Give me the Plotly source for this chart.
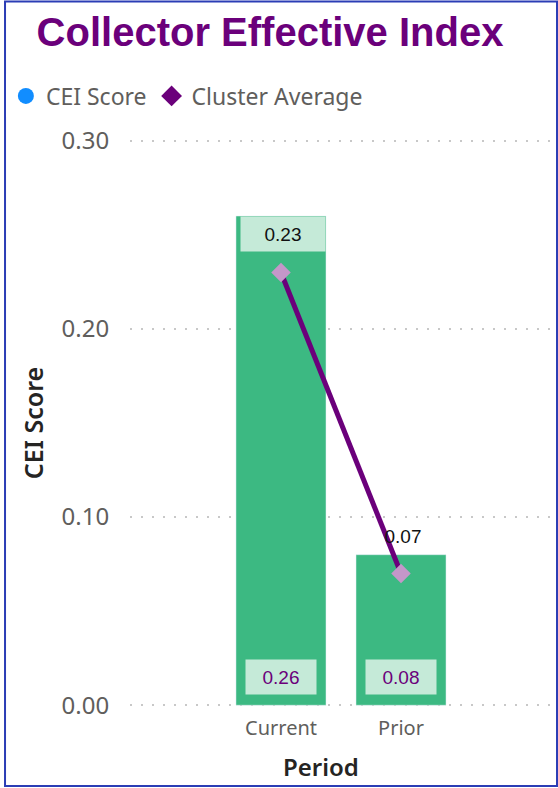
import plotly.graph_objects as go

periods = ["Current", "Prior"]
cei_score = [0.26, 0.08]
cluster_avg = [0.23, 0.07]
y_ticks = [0.0, 0.1, 0.2, 0.3]
y_tick_labels = ["0.00", "0.10", "0.20", "0.30"]

fig = go.Figure()

fig.add_trace(go.Bar(x=periods, y=cei_score, name="CEI Score", width=0.75,
                     marker_color="#3CB982", showlegend=False, hoverinfo="x+y"))
fig.add_trace(go.Scatter(x=periods, y=cluster_avg, name="Cluster Average", mode="lines+markers",
                         line=dict(color="#6B007B", width=5),
                         marker=dict(symbol="diamond", size=15, color="#C497C9"),
                         showlegend=False))

# legend-only entries (legend colours differ from the marks)
fig.add_trace(go.Scatter(x=[None], y=[None], mode="markers", name="CEI Score",
                         marker=dict(symbol="circle", size=19, color="#118DFF")))
fig.add_trace(go.Scatter(x=[None], y=[None], mode="markers", name="Cluster Average",
                         marker=dict(symbol="diamond", size=17, color="#6B007B")))

# bar value labels at the base of each bar
for p, v in zip(periods, cei_score):
    fig.add_annotation(x=p, y=0, text=f"{v:.2f}", showarrow=False, yshift=28,
                       width=68, height=32, bgcolor="#C5EAD8",
                       font=dict(family="Liberation Sans, Arial", size=19, color="#6B007B"))

# line value labels above markers
for i, (p, v) in enumerate(zip(periods, cluster_avg)):
    fig.add_annotation(x=p, y=v, text=f"{v:.2f}", showarrow=False, yshift=38, xshift=2,
                       width=82, height=32,
                       bgcolor="#C5EAD8" if v < cei_score[i] - 0.02 else "rgba(0,0,0,0)",
                       font=dict(family="Liberation Sans, Arial", size=19, color="#111111"))

fig.add_annotation(x=0.446, y=-0.0997, xref="paper", yref="paper", text="Period",
                   showarrow=False, yanchor="middle",
                   font=dict(family="Noto Sans, DejaVu Sans", size=24, color="#252423", weight=600))

# report frame
fig.add_shape(type="rect", xref="paper", yref="paper", x0=-0.292, x1=0.9977, y0=-0.1346, y1=1.237,
              line=dict(color="#2B3DB5", width=2), layer="above")

fig.update_layout(
    width=558, height=788,
    margin=dict(l=130, r=0, t=137, b=79),
    paper_bgcolor="white", plot_bgcolor="white",
    title=dict(text="<b>Collector Effective Index</b>", x=270 / 558, xref="container",
               y=1 - 32 / 788, yref="container", xanchor="center", yanchor="middle",
               font=dict(family="Liberation Sans, Arial", size=40, color="#6B007B")),
    legend=dict(orientation="h", x=-0.29, y=1.0717, xanchor="left", yanchor="middle",
                font=dict(family="Noto Sans, Open Sans", size=23, color="#605E5C"),
                itemwidth=30, tracegroupgap=0),
    showlegend=True,
)

fig.update_xaxes(type="category", range=[-1.258, 2.308], showgrid=False, zeroline=False,
                 showline=False, ticks="outside", ticklen=1, tickcolor="rgba(0,0,0,0)",
                 tickfont=dict(family="Noto Sans, Open Sans", size=20, color="#605E5C"))
fig.update_yaxes(range=[-0.002, 0.302], tickvals=y_ticks, ticktext=y_tick_labels,
                 showgrid=True, gridcolor="#C8C8C8", griddash="2px,9px", gridwidth=2,
                 zeroline=False, showline=False, ticks="outside", ticklen=15,
                 tickcolor="rgba(0,0,0,0)",
                 tickfont=dict(family="Noto Sans, Open Sans", size=24, color="#605E5C"),
                 title=dict(text="CEI Score", standoff=10,
                            font=dict(family="Noto Sans, DejaVu Sans", size=25,
                                      color="#252423", weight=600)))

fig.write_html("out.html", config={"displayModeBar": False},
               post_script="document.body.style.margin='0';")
